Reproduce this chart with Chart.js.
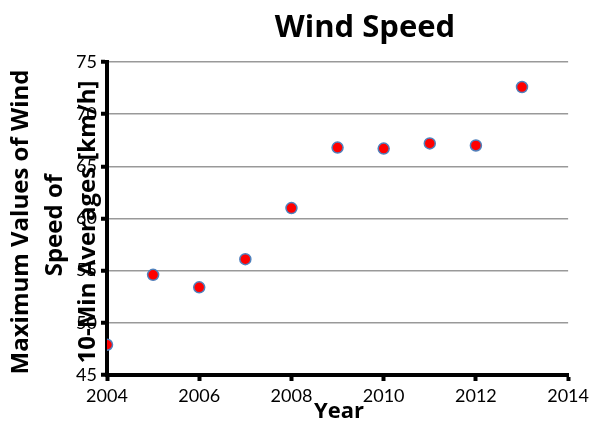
<!DOCTYPE html>
<html>
<head>
<meta charset="utf-8">
<script src="https://cdn.jsdelivr.net/npm/chart.js@4"></script>
<style>
  html, body { margin: 0; padding: 0; background: #fff; }
  #wrap { width: 593px; height: 421px; }
</style>
</head>
<body>
<div id="wrap"><canvas id="windChart"></canvas></div>
<script>
// data
const years = [2004, 2005, 2006, 2007, 2008, 2009, 2010, 2011, 2012, 2013];
const maxWind = [47.9, 54.6, 53.4, 56.1, 61.0, 66.8, 66.7, 67.2, 67.0, 72.6];
const xTicks = [2004, 2006, 2008, 2010, 2012, 2014];
const yTicks = [45, 50, 55, 60, 65, 70, 75];

const chartTitle = 'Wind Speed';
const xTitle = 'Year';
const yTitle = ['Maximum Values of Wind', 'Speed of ', '10-Min Averages [km/h]'];

const FONT = 'Lato, "Open Sans", sans-serif';
const TITLE_FONT = '"Open Sans", sans-serif';

// titles are drawn by hand so they can overlap the tick labels like the original
const titlesPlugin = {
    id: 'titles',
    afterDraw(chart) {
        const { ctx, chartArea } = chart;
        ctx.save();
        ctx.fillStyle = '#000';
        ctx.textAlign = 'center';
        ctx.textBaseline = 'alphabetic';

        ctx.font = 'bold 31px ' + TITLE_FONT;
        ctx.fillText(chartTitle, chartArea.left + 258, 37);

        ctx.font = 'bold 22px ' + TITLE_FONT;
        ctx.fillText(xTitle, chartArea.left + 232, chartArea.bottom + 43);

        ctx.font = 'bold 24px ' + TITLE_FONT;
        ctx.translate(0, chartArea.top + 160);
        ctx.rotate(-Math.PI / 2);
        yTitle.forEach((line, i) => {
            ctx.fillText(line, 0, 28 + i * 33.5);
        });
        ctx.restore();
    }
};

const ctx = document.getElementById('windChart').getContext('2d');
const windChart = new Chart(ctx, {
    type: 'scatter',
    data: {
        datasets: [{
            label: 'Wind Speed',
            data: years.map((y, i) => ({ x: y, y: maxWind[i] })),
            backgroundColor: '#ff0000',
            borderColor: '#4f81bd',
            borderWidth: 1.5,
            pointRadius: 5.5,
            pointHoverRadius: 5.5
        }]
    },
    options: {
        responsive: true,
        maintainAspectRatio: false,
        animation: false,
        layout: { padding: { top: 62, right: 21, left: 0, bottom: 0 } },
        plugins: {
            legend: { display: false },
            tooltip: { enabled: false }
        },
        scales: {
            x: {
                type: 'linear',
                min: 2004,
                max: 2014,
                afterBuildTicks: scale => { scale.ticks = xTicks.map(v => ({ value: v })); },
                afterFit: scale => { scale.height = 46; },
                border: { color: '#000', width: 4 },
                grid: {
                    drawOnChartArea: false,
                    drawTicks: true,
                    tickLength: 6,
                    tickWidth: 4,
                    tickColor: '#000'
                },
                ticks: {
                    color: '#000',
                    padding: 4,
                    maxRotation: 0,
                    font: { family: FONT, size: 18 },
                    callback: v => String(v)
                }
            },
            y: {
                min: 45,
                max: 75,
                afterBuildTicks: scale => { scale.ticks = yTicks.map(v => ({ value: v })); },
                afterFit: scale => { scale.width = 107; },
                border: { color: '#000', width: 4 },
                grid: {
                    color: '#999',
                    lineWidth: 1.5,
                    drawTicks: true,
                    tickLength: 6,
                    tickWidth: 4,
                    tickColor: '#000'
                },
                ticks: {
                    color: '#000',
                    padding: 4,
                    font: { family: FONT, size: 18 }
                }
            }
        }
    },
    plugins: [titlesPlugin]
});
</script>
</body>
</html>
